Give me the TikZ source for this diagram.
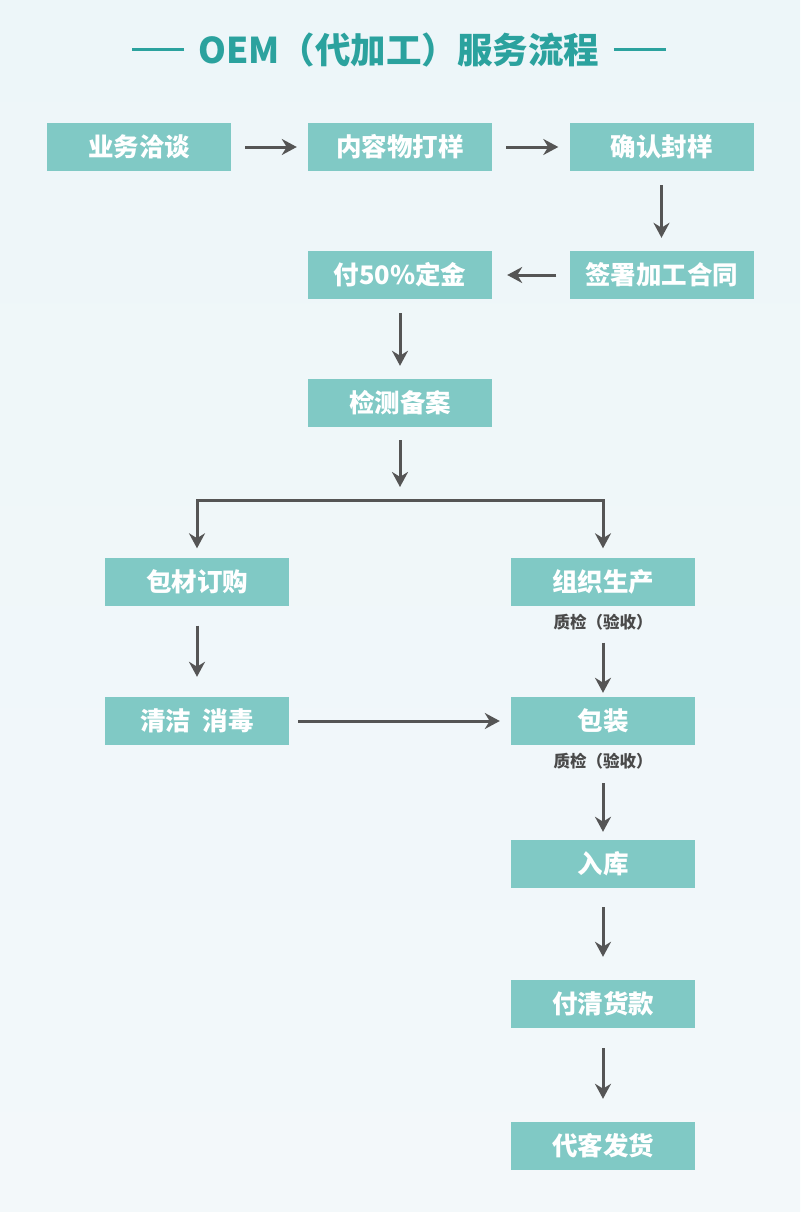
\documentclass[tikz,border=0pt]{standalone}
\usepackage{fontspec}
\setmainfont{Noto Sans CJK SC}
\usetikzlibrary{calc,arrows.meta}
\definecolor{bgtop}{HTML}{EDF6F9}
\definecolor{bgbot}{HTML}{F3F8FA}
\definecolor{boxteal}{HTML}{80C9C5}
\definecolor{titleteal}{HTML}{2BA29E}
\definecolor{arrowgray}{HTML}{555555}
\definecolor{notegray}{HTML}{4A4A4A}
\tikzset{
  stepbox/.style={fill=boxteal,minimum width=184pt,minimum height=48pt,inner sep=0pt,
    text=white,font=\bfseries\fontsize{25.5}{28}\selectfont},
  arr/.style={draw=arrowgray,line width=3pt,-{Stealth[length=15pt,width=16pt]}},
  note/.style={text=notegray,font=\bfseries\fontsize{16.5}{20}\selectfont},
  titleline/.style={draw=titleteal,line width=3pt}
}
\begin{document}
\begin{tikzpicture}[x=1pt,y=-1pt]
% ---- background
\shade[top color=bgtop,bottom color=bgbot] (0,0) rectangle (800,1212);
\useasboundingbox (0,0) rectangle (800,1212);
% ---- title
\node[text=titleteal,font=\bfseries\fontsize{35.5}{40}\selectfont] (title) at (399,50) {OEM（代加工）服务流程};
\draw[titleline] ([xshift=-11pt]title.west) -- ++(-52,0);
\draw[titleline] ([xshift=11pt]title.east) -- ++(52,0);
% ---- top rows
\node[stepbox] (talk) at (139,147) {业务洽谈};
\node[stepbox] (sample) at (400,147) {内容物打样};
\node[stepbox] (confirm) at (661.5,147) {确认封样};
\node[stepbox] (contract) at (661.5,275) {签署加工合同};
\node[stepbox] (deposit) at (400,275) {付50\%定金};
\node[stepbox] (record) at (400,403) {检测备案};
% ---- two branches
\node[stepbox] (material) at (197,581.5) {包材订购};
\node[stepbox] (produce) at (603,581.5) {组织生产};
\node[note] (qc1) at ([yshift=-16pt]produce.south) {质检（验收）};
\node[stepbox] (clean) at (197,721) {清洁\ \ 消毒};
\node[stepbox] (pack) at (603,721) {包装};
\node[note] (qc2) at ([yshift=-16pt]pack.south) {质检（验收）};
\node[stepbox] (store) at (603,864) {入库};
\node[stepbox] (payoff) at (603,1004) {付清货款};
\node[stepbox] (ship) at (603,1146) {代客发货};
\coordinate (split) at (400,500);
% ---- connectors
\draw[arr,shorten <=14pt,shorten >=11pt] (talk) -- (sample);
\draw[arr,shorten <=14pt,shorten >=11pt] (sample) -- (confirm);
\draw[arr,shorten <=14pt,shorten >=13pt] (confirm) -- (contract);
\draw[arr,shorten <=13pt,shorten >=15pt] (contract) -- (deposit);
\draw[arr,shorten <=14pt,shorten >=13pt] (deposit) -- (record);
\draw[arr,shorten <=13pt,shorten >=13pt] (record) -- (split);
\draw[arr,shorten >=9pt] (split) -| (material.north);
\draw[arr,shorten >=9pt] (split) -| (produce.north);
\draw[arr,shorten <=20pt,shorten >=20pt] (material) -- (clean);
\draw[arr,shorten <=37pt,shorten >=4pt] (produce) -- (pack);
\draw[arr,shorten <=9pt,shorten >=11pt] (clean) -- (pack);
\draw[arr,shorten <=38pt,shorten >=8pt] (pack) -- (store);
\draw[arr,shorten <=19pt,shorten >=23pt] (store) -- (payoff);
\draw[arr,shorten <=20pt,shorten >=23pt] (payoff) -- (ship);
\end{tikzpicture}
\end{document}
